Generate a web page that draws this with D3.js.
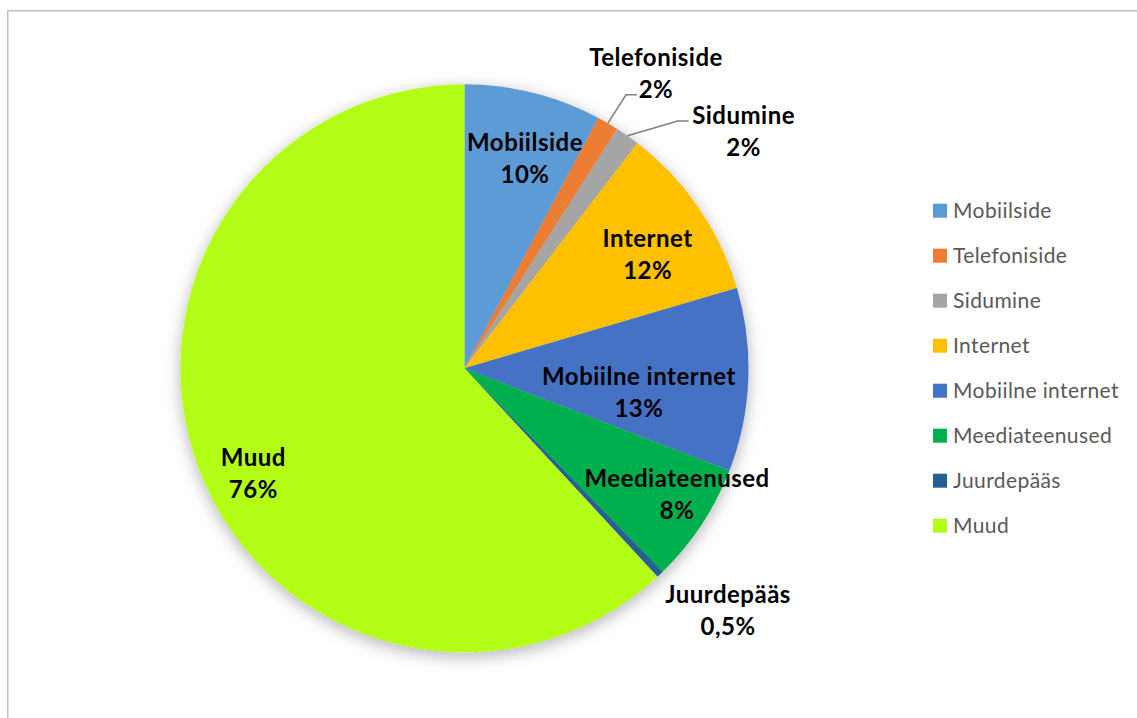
<!DOCTYPE html>
<html>
  <head>
    <meta charset="utf-8">
    <title>Pie</title>
    <style>
      body { margin: 0; background: #fff; }
      svg { display: block; }
    </style>
  </head>
  <body>
    <script src="https://d3js.org/d3.v7.min.js"></script>
    <svg id="chart" width="1137" height="718"></svg>
    <script>
      var categories = ["Mobiilside", "Telefoniside", "Sidumine", "Internet",
                        "Mobiilne internet", "Meediateenused", "Juurdepääs", "Muud"];
      var shares = [9.6, 1.5, 1.7, 12.3, 12.8, 8.4, 0.5, 76];
      var percentLabels = ["10%", "2%", "2%", "12%", "13%", "8%", "0,5%", "76%"];
      var colors = ["#5B9BD5", "#ED7D31", "#A5A5A5", "#FFC000",
                    "#4472C4", "#00B050", "#255E91", "#B3FC17"];

      // label placement: angle shift (deg) from slice middle, radius factor, leader?
      var labelLayout = [
        { da: 2, rf: 0.77 },
        { da: 2.6, rf: 1.24, leader: [-19, 22] },
        { da: 14.6, rf: 1.29, leader: [-55, -10] },
        { da: 2.5, rf: 0.76 },
        { da: 5.5, rf: 0.62 },
        { da: -2.8, rf: 0.87 },
        { da: -3.9, rf: 1.26 },
        { da: -5, rf: 0.83 }
      ];

      var svg = d3.select("#chart"),
        width = +svg.attr("width"),
        height = +svg.attr("height");

      var cx = 464.5, cy = 368.3, radius = 284;

      // frame of the chart area
      svg.append("rect")
        .attr("x", 7.75).attr("y", 10.75)
        .attr("width", width + 20).attr("height", height + 20)
        .attr("fill", "#fff")
        .attr("stroke", "#c0c0c0")
        .attr("stroke-width", 1.5);

      var defs = svg.append("defs");
      var shadow = defs.append("filter").attr("id", "shadow")
        .attr("x", "-20%").attr("y", "-20%").attr("width", "140%").attr("height", "140%");
      shadow.append("feDropShadow")
        .attr("dx", 0).attr("dy", 4)
        .attr("stdDeviation", 8)
        .attr("flood-color", "#000")
        .attr("flood-opacity", 0.3);

      var pie = d3.pie().sort(null).value(function (d) { return d; });
      var arcs = pie(shares);
      var arc = d3.arc().innerRadius(0).outerRadius(radius);

      var g = svg.append("g").attr("transform", "translate(" + cx + "," + cy + ")");

      g.append("g")
        .attr("filter", "url(#shadow)")
        .selectAll("path")
        .data(arcs)
        .enter()
        .append("path")
          .attr("d", arc)
          .attr("fill", function (d, i) { return colors[i]; });

      function polar(angle, r) {
        return [Math.sin(angle) * r, -Math.cos(angle) * r];
      }

      // data labels
      arcs.forEach(function (d, i) {
        var lay = labelLayout[i];
        var mid = (d.startAngle + d.endAngle) / 2;
        var p = polar(mid + lay.da * Math.PI / 180, radius * lay.rf);

        if (lay.leader) {
          var start = polar(mid, radius);
          var end = [p[0] + lay.leader[0], p[1] + lay.leader[1]];
          var bend = [end[0] - 11, end[1]];
          g.append("polyline")
            .attr("points", [start, bend, end].map(function (q) { return q.join(","); }).join(" "))
            .attr("fill", "none")
            .attr("stroke", "#7f7f7f")
            .attr("stroke-width", 1.5);
        }

        var t = g.append("text")
          .attr("text-anchor", "middle")
          .attr("font-family", "Lato, 'Open Sans', sans-serif")
          .attr("font-weight", "bold")
          .attr("font-size", 24)
          .attr("letter-spacing", 0.5)
          .attr("fill", "#000");
        t.append("tspan").attr("x", p[0]).attr("y", p[1] - 7).text(categories[i]);
        t.append("tspan").attr("x", p[0]).attr("y", p[1] + 25).text(percentLabels[i]);
      });

      // legend
      var legend = svg.append("g")
        .selectAll("g")
        .data(categories)
        .enter()
        .append("g")
          .attr("transform", function (d, i) { return "translate(933," + (210.7 + i * 45) + ")"; });

      legend.append("rect")
        .attr("x", 0).attr("y", -7)
        .attr("width", 14).attr("height", 14)
        .attr("fill", function (d, i) { return colors[i]; });

      legend.append("text")
        .attr("x", 20).attr("y", 7.5)
        .attr("font-family", "Lato, 'Open Sans', sans-serif")
        .attr("font-size", 21)
        .attr("letter-spacing", 0.4)
        .attr("fill", "#595959")
        .text(function (d) { return d; });
    </script>
  </body>
</html>
